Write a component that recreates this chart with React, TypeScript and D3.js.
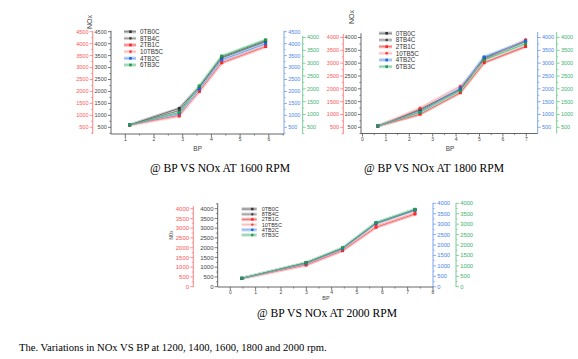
import React from "react";
import * as d3 from "d3";

const seriesNames = ["0TB0C", "8TB4C", "2TB1C", "10TB5C", "4TB2C", "6TB3C"];

// 1600 RPM
const bp1600 = [1.15, 2.88, 3.58, 4.36, 5.89];
const nox1600 = [
  [600, 1290, 2200, 3440, 4120],
  [600, 1200, 2170, 3400, 4080],
  [590, 1000, 2000, 3200, 3880],
  [590, 960, 2040, 3240, 3920],
  [600, 1080, 2100, 3320, 4000],
  [600, 1120, 2230, 3480, 4160],
];
// 1800 RPM
const bp1800 = [0.65, 2.46, 4.18, 5.2, 6.97];
const nox1800 = [
  [550, 1200, 2000, 3200, 3880],
  [550, 1160, 1960, 3160, 3840],
  [540, 1010, 1850, 3020, 3650],
  [540, 1250, 2100, 3100, 3920],
  [550, 1100, 2020, 3240, 3860],
  [550, 1080, 1920, 3120, 3760],
];
// 2000 RPM
const bp2000 = [0.45, 2.99, 4.43, 5.75, 7.29];
const nox2000 = [
  [430, 1230, 1980, 3270, 3950],
  [430, 1200, 1950, 3230, 3920],
  [420, 1110, 1850, 3050, 3730],
  [420, 1140, 1890, 3110, 3790],
  [430, 1190, 1940, 3250, 3940],
  [430, 1220, 1990, 3280, 3970],
];

const yTicks1 = [500, 1000, 1500, 2000, 2500, 3000, 3500, 4000, 4500];
const yTicks2 = [500, 1000, 1500, 2000, 2500, 3000, 3500, 4000];
const yTicks3 = [0, 500, 1000, 1500, 2000, 2500, 3000, 3500, 4000];
const xTicks1 = [1, 2, 3, 4, 5, 6];
const xTicks2 = [0, 1, 2, 3, 4, 5, 6, 7];
const xTicks3 = [0, 1, 2, 3, 4, 5, 6, 7, 8];

const captions = [
  "@ BP VS NOx AT 1600 RPM",
  "@ BP VS NOx AT 1800 RPM",
  "@ BP VS NOx AT 2000 RPM",
];
const footer = "The. Variations in NOx VS BP at 1200, 1400, 1600, 1800 and 2000 rpm.";

const styles = [
  { line: "#555", halo: "#c8c8c8", mark: "#333", shape: "square" },
  { line: "#666", halo: "#d4d4d4", mark: "#444", shape: "circle" },
  { line: "#f24a4a", halo: "#f9b8b8", mark: "#f22", shape: "square" },
  { line: "#f8a0a0", halo: "#fde0e0", mark: "#f33", shape: "circle" },
  { line: "#5a96ee", halo: "#c4d8f6", mark: "#1a66e0", shape: "square" },
  { line: "#4cbb7d", halo: "#c4e8d2", mark: "#229a55", shape: "square" },
];

const AX = {
  black: { line: "#555", text: "#444" },
  red: { line: "#f77", text: "#f55" },
  blue: { line: "#6f9cec", text: "#4a86e8" },
  green: { line: "#6cc48e", text: "#3cb371" },
};

const SANS = "Liberation Sans, Arial, sans-serif";
const SERIF = "Liberation Serif, Times New Roman, serif";

function YAxis({ x, scale, ticks, top, bottom, side, col, fs, tickSide }: any) {
  const c = AX[col as keyof typeof AX];
  const dir = side === "left" ? -1 : 1;
  const tdir = tickSide === undefined ? dir : tickSide;
  const step = ticks[1] - ticks[0];
  const minors: number[] = [];
  ticks.forEach((t: number) => minors.push(t + step / 2));
  minors.push(ticks[0] - step / 2);
  const [d0, d1] = [scale.invert(bottom), scale.invert(top)];
  return (
    <g>
      <line x1={x} x2={x} y1={top} y2={bottom} stroke={c.line} strokeWidth={0.9} />
      {minors
        .filter((m) => m >= Math.min(d0, d1) && m <= Math.max(d0, d1))
        .map((m) => (
          <line key={"m" + m} x1={x} x2={x + tdir * 1.6} y1={scale(m)} y2={scale(m)} stroke={c.line} strokeWidth={0.7} />
        ))}
      {ticks.map((t: number) => (
        <g key={t}>
          <line x1={x} x2={x + tdir * 3} y1={scale(t)} y2={scale(t)} stroke={c.line} strokeWidth={0.8} />
          <text
            x={x + dir * 4.2}
            y={scale(t)}
            dy="0.35em"
            fontSize={fs}
            fill={c.text}
            fontFamily={SANS}
            textAnchor={side === "left" ? "end" : "start"}
          >
            {t}
          </text>
        </g>
      ))}
    </g>
  );
}

function XAxis({ y, scale, ticks, x0, x1, fs, labelY }: any) {
  const minors: number[] = [];
  for (let t = ticks[0] - 0.5; t <= ticks[ticks.length - 1] + 0.5; t += 0.5) {
    const px = scale(t);
    if (px >= x0 && px <= x1 && !ticks.includes(t)) minors.push(t);
  }
  return (
    <g>
      <line x1={x0} x2={x1} y1={y} y2={y} stroke="#555" strokeWidth={0.9} />
      {minors.map((m) => (
        <line key={"m" + m} x1={scale(m)} x2={scale(m)} y1={y} y2={y + 1.6} stroke="#555" strokeWidth={0.7} />
      ))}
      {ticks.map((t: number) => (
        <g key={t}>
          <line x1={scale(t)} x2={scale(t)} y1={y} y2={y + 3} stroke="#555" strokeWidth={0.8} />
          <text x={scale(t)} y={labelY} dy="0.35em" fontSize={fs} fill="#444" fontFamily={SANS} textAnchor="middle">
            {t}
          </text>
        </g>
      ))}
    </g>
  );
}

function Marker({ x, y, s, st }: any) {
  return st.shape === "square" ? (
    <rect x={x - s / 2} y={y - s / 2} width={s} height={s} fill={st.mark} />
  ) : (
    <circle cx={x} cy={y} r={s / 2} fill={st.mark} />
  );
}

function Panel({ cfg }: any) {
  const { xs, ys, bps, data, ms } = cfg;
  const line = d3
    .line<[number, number]>()
    .x((d) => xs(d[0]))
    .y((d) => ys(d[1]));
  return (
    <g>
      {data.map((vals: number[], i: number) => {
        const pts = bps.map((b: number, j: number) => [b, vals[j]] as [number, number]);
        return (
          <path key={"h" + i} d={line(pts) || ""} fill="none" stroke={styles[i].halo} strokeWidth={3} strokeLinejoin="round" />
        );
      })}
      {data.map((vals: number[], i: number) => {
        const pts = bps.map((b: number, j: number) => [b, vals[j]] as [number, number]);
        return <path key={"l" + i} d={line(pts) || ""} fill="none" stroke={styles[i].line} strokeWidth={0.8} />;
      })}
      {data.map((vals: number[], i: number) =>
        bps.map((b: number, j: number) => (
          <Marker key={"p" + i + "-" + j} x={xs(b)} y={ys(vals[j])} s={ms} st={styles[i]} />
        ))
      )}
    </g>
  );
}

function Legend({ x0, x1, mx, tx, y0, dy, fs, ms }: any) {
  return (
    <g>
      {seriesNames.map((n, i) => {
        const y = y0 + i * dy;
        return (
          <g key={n}>
            <line x1={x0} x2={x1} y1={y} y2={y} stroke={styles[i].halo} strokeWidth={3.4} />
            <line x1={x0} x2={x1} y1={y} y2={y} stroke={styles[i].line} strokeWidth={0.6} />
            <Marker x={mx} y={y} s={ms} st={styles[i]} />
            <text x={tx} y={y} dy="0.35em" fontSize={fs} fill="#333" fontFamily={SANS}>
              {n}
            </text>
          </g>
        );
      })}
    </g>
  );
}

export default function App() {
  // Panel 1 (1600 RPM)
  const xs1 = d3.scaleLinear().domain([1, 6]).range([125.3, 268.8]);
  const ys1 = d3.scaleLinear().domain([500, 4500]).range([127.3, 31.7]);
  // Panel 2 (1800 RPM)
  const xs2 = d3.scaleLinear().domain([0, 7]).range([362.5, 526.3]);
  const ys2 = d3.scaleLinear().domain([500, 4000]).range([127.3, 37.5]);
  // Panel 3 (2000 RPM)
  const xs3 = d3.scaleLinear().domain([0, 8]).range([230.3, 433]);
  const ys3 = d3.scaleLinear().domain([0, 4000]).range([286.7, 208.7]);
  const ys3r = d3.scaleLinear().domain([0, 4000]).range([286.7, 203.3]);

  return (
    <svg
      width={578}
      height={359}
      style={{ position: "absolute", left: 0, top: 0, background: "#fff" }}
    >
      <rect x={0} y={0} width={578} height={359} fill="#fff" />

      {/* Panel 1 */}
      <YAxis x={92.7} scale={ys1} ticks={yTicks1} top={31} bottom={134} side="left" col="red" fs={5.5} />
      <YAxis x={111} scale={ys1} ticks={yTicks1} top={30.7} bottom={134} side="left" col="black" fs={5.5} />
      <YAxis x={284} scale={ys1} ticks={yTicks1} top={30.7} bottom={134} side="right" col="blue" fs={5.5} />
      <XAxis y={134} scale={xs1} ticks={xTicks1} x0={111} x1={284} fs={5} labelY={139.5} />
      <text x={197.7} y={148.3} dy="0.35em" fontSize={6.5} fill="#444" fontFamily={SANS} textAnchor="middle">BP</text>
      <text transform="translate(90,22) rotate(-90)" dy="0.35em" fontSize={7} fill="#444" fontFamily={SANS} textAnchor="middle">NOx</text>
      <Panel cfg={{ xs: xs1, ys: ys1, bps: bp1600, data: nox1600, ms: 3 }} />
      <Legend x0={124} x1={136} mx={130.5} tx={140} y0={31.7} dy={6.65} fs={6.3} ms={2.6} />

      {/* Panel 2 */}
      <YAxis x={302.7} scale={ys2} ticks={yTicks2} top={36} bottom={134} side="right" col="green" fs={5.5} />
      <YAxis x={343.3} scale={ys2} ticks={yTicks2} top={34} bottom={134} side="left" col="red" fs={5.5} />
      <YAxis x={361} scale={ys2} ticks={yTicks2} top={33.3} bottom={134} side="left" col="black" fs={5.5} />
      <YAxis x={537.7} scale={ys2} ticks={yTicks2} top={32} bottom={133.5} side="right" col="blue" fs={5.5} />
      <YAxis x={556.7} scale={ys2} ticks={yTicks2} top={32} bottom={133.5} side="right" col="green" fs={5.5} />
      <XAxis y={133.5} scale={xs2} ticks={xTicks2} x0={361} x1={537.7} fs={5} labelY={139.5} />
      <text x={450} y={148.3} dy="0.35em" fontSize={6.5} fill="#444" fontFamily={SANS} textAnchor="middle">BP</text>
      <text transform="translate(351.7,17) rotate(-90)" dy="0.35em" fontSize={7} fill="#444" fontFamily={SANS} textAnchor="middle">NOx</text>
      <Panel cfg={{ xs: xs2, ys: ys2, bps: bp1800, data: nox1800, ms: 3 }} />
      <Legend x0={379} x1={392} mx={386.7} tx={395.7} y0={33.3} dy={6.67} fs={6.3} ms={2.6} />

      {/* Panel 3 */}
      <YAxis x={193.3} scale={ys3} ticks={yTicks3} top={206} bottom={287} side="left" col="red" fs={6} />
      <YAxis x={217.7} scale={ys3} ticks={yTicks3} top={203.3} bottom={287} side="left" col="black" fs={6} />
      <YAxis x={433} scale={ys3r} ticks={yTicks3} top={203} bottom={287} side="right" col="blue" fs={5.8} />
      <YAxis x={456} scale={ys3r} ticks={yTicks3} top={203} bottom={287} side="right" col="green" fs={5.8} />
      <XAxis y={287} scale={xs3} ticks={xTicks3} x0={217.7} x1={433} fs={5} labelY={292.5} />
      <text x={326} y={298.5} dy="0.35em" fontSize={5.5} fill="#444" fontFamily={SANS} textAnchor="middle">BP</text>
      <text transform="translate(171.7,235) rotate(-90)" dy="0.35em" fontSize={4.5} fill="#444" fontFamily={SANS} textAnchor="middle">NOx</text>
      <Panel cfg={{ xs: xs3, ys: ys3, bps: bp2000, data: nox2000, ms: 3 }} />
      <Legend x0={241.7} x1={256.7} mx={252.3} tx={261.7} y0={209} dy={5.2} fs={5.5} ms={2.4} />

      {/* Captions */}
      <text x={150} y={172} fontSize={11.6} fill="#000" fontFamily={SERIF}>{captions[0]}</text>
      <text x={364} y={172} fontSize={11.6} fill="#000" fontFamily={SERIF}>{captions[1]}</text>
      <text x={257} y={317} fontSize={11.6} fill="#000" fontFamily={SERIF}>{captions[2]}</text>
      <text x={19} y={351} fontSize={10.6} fill="#000" fontFamily={SERIF}>{footer}</text>
    </svg>
  );
}
